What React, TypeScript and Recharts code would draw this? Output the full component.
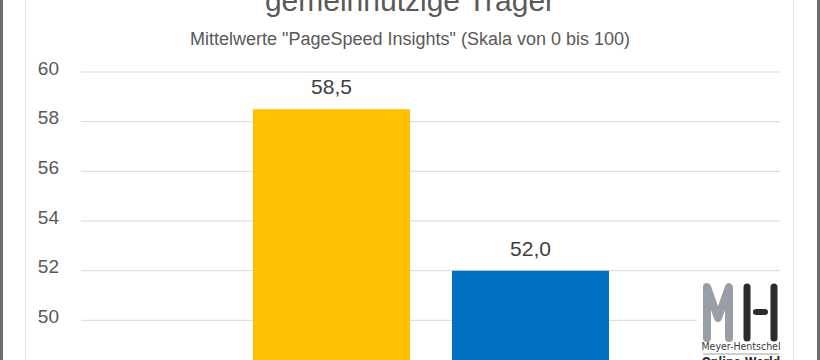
import React from 'react';
import { BarChart, Bar, XAxis, YAxis, CartesianGrid, LabelList } from 'recharts';

// Mittelwerte PageSpeed Insights, gemeinnützige Träger
const categories = ['gemeinnützige Träger'];
const seriesNames = ['Serie 1', 'Serie 2'];
const seriesValues = [58.5, 52.0];
const seriesColors = ['#FFC000', '#0070C0'];
const yTicks = [48, 50, 52, 54, 56, 58, 60];

const data = categories.map((name) => ({
  name,
  s0: seriesValues[0],
  s1: seriesValues[1],
}));

const fmt = (v: number) => v.toFixed(1).replace('.', ',');

const FONT = '"Liberation Sans", Arial, sans-serif';

const Logo: React.FC = () => (
  <div
    style={{
      position: 'absolute',
      left: 697,
      top: 272,
      width: 93,
      height: 100,
      background: '#fff',
    }}
  >
    <svg width={93} height={100} style={{ display: 'block' }}>
      <polyline
        points="10,66 10,15 21,46 32,15 32,66"
        fill="none"
        stroke="#9a9ea6"
        strokeWidth={8}
        strokeLinecap="round"
        strokeLinejoin="round"
      />
      <line x1={50} y1={15} x2={50} y2={66} stroke="#2b2b2e" strokeWidth={7} strokeLinecap="round" />
      <line x1={77} y1={15} x2={77} y2={66} stroke="#2b2b2e" strokeWidth={7} strokeLinecap="round" />
      <line x1={59} y1={40} x2={68} y2={40} stroke="#2b2b2e" strokeWidth={6} strokeLinecap="round" />
      <text x={44} y={78} textAnchor="middle" fontSize={10.5} fill="#3a3a3a" fontFamily='"DejaVu Sans Condensed", sans-serif'>
        Meyer-Hentschel
      </text>
      <line x1={6} y1={82} x2={82} y2={82} stroke="#9a9ea6" strokeWidth={1} />
      <text x={44} y={94} textAnchor="middle" fontSize={12} fontWeight="bold" fill="#2b2b2e" fontFamily='"DejaVu Sans Condensed", sans-serif'>
        Online World
      </text>
    </svg>
  </div>
);

export default function App() {
  return (
    <div
      style={{
        position: 'absolute',
        left: 0,
        top: 0,
        width: 820,
        height: 360,
        overflow: 'hidden',
        background: '#fff',
        fontFamily: FONT,
      }}
    >
      <div style={{ position: 'absolute', left: 0, top: 0, width: 3, height: 360, background: '#6e6e6e' }} />
      <div style={{ position: 'absolute', left: 817, top: 0, width: 3, height: 360, background: '#6e6e6e' }} />
      <div style={{ position: 'absolute', left: 25, top: 0, width: 1, height: 360, background: '#e3e3e3' }} />
      <div style={{ position: 'absolute', left: 793, top: 0, width: 1, height: 360, background: '#e3e3e3' }} />

      <div
        style={{
          position: 'absolute',
          left: 0,
          width: 820,
          top: -19,
          textAlign: 'center',
          fontSize: 30,
          lineHeight: '40px',
          color: '#595959',
        }}
      >
        gemeinnützige Träger
      </div>
      <div
        style={{
          position: 'absolute',
          left: 0,
          width: 820,
          top: 29,
          textAlign: 'center',
          fontSize: 18,
          lineHeight: '20px',
          color: '#595959',
        }}
      >
        Mittelwerte "PageSpeed Insights" (Skala von 0 bis 100)
      </div>

      <div style={{ position: 'absolute', left: 0, top: 0 }}>
        <BarChart
          width={820}
          height={400}
          data={data}
          margin={{ top: 72, right: 40, bottom: 30, left: 0 }}
          barSize={157}
          barGap={42}
        >
          <CartesianGrid vertical={false} stroke="#d9d9d9" strokeWidth={1} />
          <XAxis dataKey="name" hide />
          <YAxis
            width={81}
            domain={[48, 60]}
            ticks={yTicks}
            axisLine={false}
            tickLine={false}
            tickSize={6}
            tickMargin={16}
            tick={{ fill: '#595959', fontSize: 19, dy: -4, fontFamily: FONT }}
          />
          {seriesNames.map((n, i) => (
            <Bar key={n} name={n} dataKey={`s${i}`} fill={seriesColors[i]} isAnimationActive={false}>
              <LabelList
                dataKey={`s${i}`}
                position="top"
                offset={15}
                formatter={(v: number) => fmt(v)}
                style={{ fill: '#404040', fontSize: 21, fontFamily: FONT }}
              />
            </Bar>
          ))}
        </BarChart>
      </div>

      <Logo />
    </div>
  );
}
